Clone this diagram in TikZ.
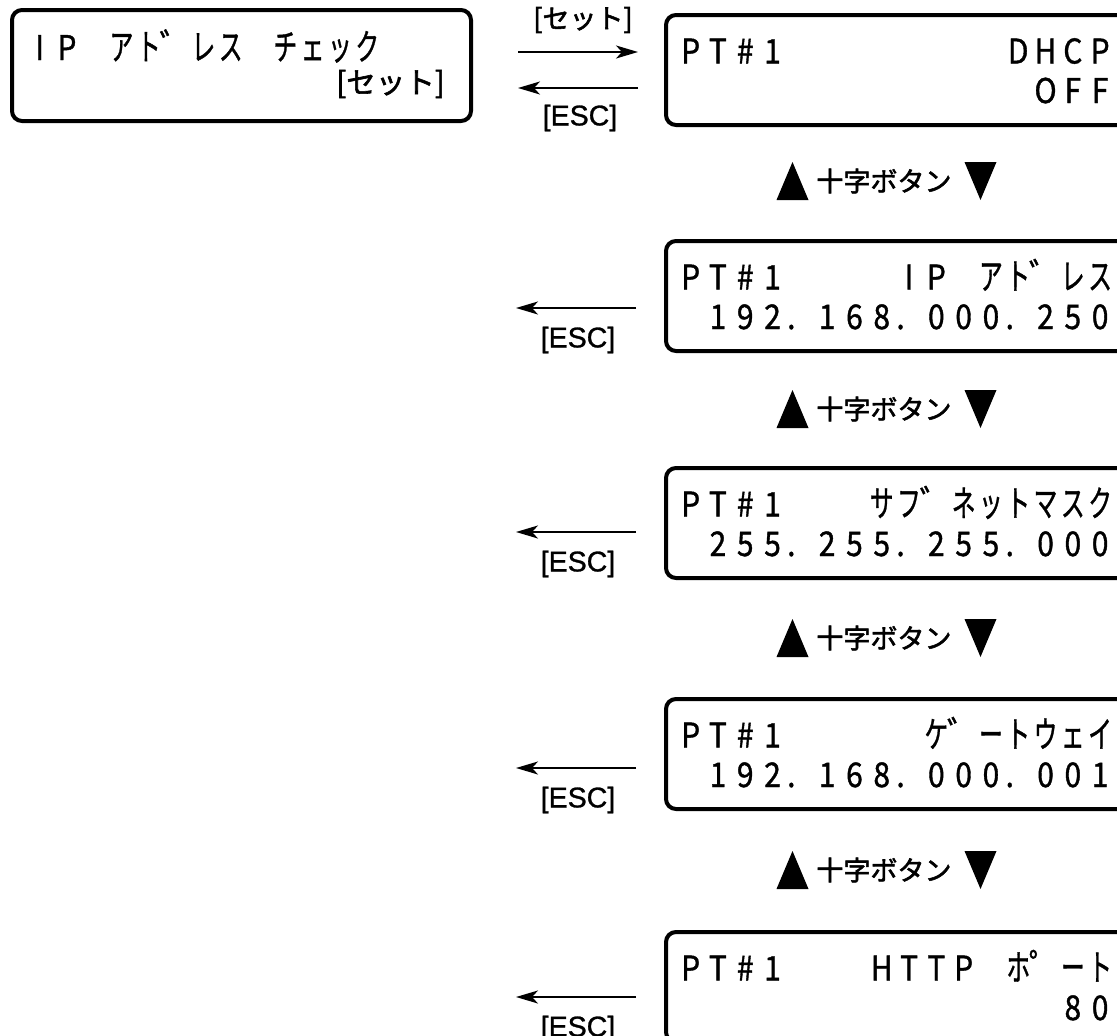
\documentclass[tikz,border=0pt]{standalone}
\usepackage{fontspec}
\usepackage{graphicx}
\usetikzlibrary{arrows.meta}
\newfontfamily\jfont{Noto Sans CJK JP}[FakeBold=1.2]
\newfontfamily\jlblfont{Noto Sans CJK JP}[FakeBold=2]
\newfontfamily\elblfont{Liberation Sans}[FakeBold=1]
\newlength\cw \setlength\cw{27.3pt}
\newcommand\lcdlatinfont{\jfont\fontsize{34}{34}\selectfont}
\newcommand\lcdkanafont{\jfont\fontsize{36}{36}\selectfont}
\newcommand\lblfont{\jlblfont\fontsize{27}{27}\selectfont}
\newcommand\esclblfont{\elblfont\fontsize{28.5}{28.5}\selectfont}
\def\lcdloop#1#2{\ifx\relax#2\else#1{#2}\expandafter\lcdloop\expandafter#1\fi}
\newcommand\lcdcellA[1]{\ifx.#1\makebox[\cw][l]{\hspace*{1pt}\scalebox{0.88}[1]{\lcdlatinfont .}}\else\makebox[\cw][c]{\scalebox{0.88}[1]{\lcdlatinfont #1}}\fi}
\newcommand\lcdcellK[1]{\makebox[\cw][c]{\scalebox{0.66}[1]{\lcdkanafont #1}}}
\newcommand\lcdL[1]{\lcdloop\lcdcellA#1\relax}
\newcommand\lcdJ[1]{\lcdloop\lcdcellK#1\relax}
\newcommand\lcdDk[1][ﾞ]{\makebox[\cw][l]{\hspace*{-3pt}\lcdkanafont #1}}
\begin{document}
\begin{tikzpicture}[x=1pt,y=-1pt,
  lcdbox/.style={draw, line width=4pt, rounded corners=10pt, inner sep=0pt, outer sep=0pt},
  lcdtext/.style={anchor=base west, inner sep=0pt, outer sep=0pt},
  lbl/.style={inner sep=0pt, font=\lblfont},
  esclbl/.style={inner sep=0pt, font=\esclblfont},
  conn/.style={line width=2pt, -{Stealth[length=22pt,width=13pt,inset=6pt]}},
  crossrow/.pic={
    \fill (-107.5,19) -- (-75.5,19) -- (-91.5,-19) -- cycle;
    \fill (80.5,-19) -- (112.5,-19) -- (96.5,19) -- cycle;
    \node[lbl] (-label) at (0,0) {十字ボタン};
  }]
\useasboundingbox (0,0) rectangle (1117,1036);
\clip (0,0) rectangle (1117,1036);

% left box
\node[lcdbox, anchor=north west, minimum width=459pt, minimum height=111pt] (lb) at (12,10) {};
\node[lcdtext] (lbt1) at (26,60) {\lcdL{IP~}\lcdJ{アト}\lcdDk\lcdJ{レス}\lcdL{~}\lcdJ{チェック}};
\node[lbl, anchor=east, font=\jlblfont\fontsize{29.5}{29.5}\selectfont] (lbt2) at (445,84) {[セット]};

% right boxes
\foreach \n/\t in {1/13,2/239,3/466,4/697,5/930}{
  \node[lcdbox, anchor=north west, minimum width=520pt, minimum height=110pt] (b\n) at (666,\t+2) {};
}
% box 1
\node[lcdtext] (b1l1) at (677,63.5) {\lcdL{PT\#1~~~~~~~~DHCP}};
\node[lcdtext] (b1l2) at (677,103) {\lcdL{~~~~~~~~~~~~~OFF}};
% box 2
\node[lcdtext] (b2l1) at (677,289.5) {\lcdL{PT\#1~~~~IP~}\lcdJ{アト}\lcdDk\lcdJ{レス}};
\node[lcdtext] (b2l2) at (677,329) {\lcdL{~192.168.000.250}};
% box 3
\node[lcdtext] (b3l1) at (677,516.5) {\lcdL{PT\#1~~~}\lcdJ{サフ}\lcdDk\lcdJ{ネットマスク}};
\node[lcdtext] (b3l2) at (677,556) {\lcdL{~255.255.255.000}};
% box 4
\node[lcdtext] (b4l1) at (677,747.5) {\lcdL{PT\#1~~~~~}\lcdJ{ケ}\lcdDk\lcdJ{ートウェイ}};
\node[lcdtext] (b4l2) at (677,787) {\lcdL{~192.168.000.001}};
% box 5
\node[lcdtext] (b5l1) at (677,980.5) {\lcdL{PT\#1~~~HTTP~}\lcdJ{ホ}\lcdDk[ﾟ]\lcdJ{ート}};
\node[lcdtext] (b5l2) at (677,1020) {\lcdL{~~~~~~~~~~~~~~80}};

% arrows box 1
\coordinate (s1a) at (518,52);
\coordinate (e1a) at (638,52);
\coordinate (s1b) at (638,88);
\coordinate (e1b) at (518,88);
\draw[conn] (s1a) -- (e1a);
\draw[conn] (s1b) -- (e1b);
\node[lbl] (set1) at (583,20) {[セット]};
\node[esclbl] (esc1) at (580,118) {[ESC]};

% ESC arrows for boxes 2-5
\foreach \n/\y in {2/308,3/532,4/768,5/997}{
  \coordinate (s\n) at (636,\y);
  \coordinate (e\n) at (516,\y);
  \draw[conn] (s\n) -- (e\n);
  \node[esclbl] (esc\n) at (578,\y+32) {[ESC]};
}

% cross button rows
\pic (row1) at (884,181) {crossrow};
\pic (row2) at (884,409) {crossrow};
\pic (row3) at (884,638) {crossrow};
\pic (row4) at (884,870) {crossrow};
\end{tikzpicture}
\end{document}
